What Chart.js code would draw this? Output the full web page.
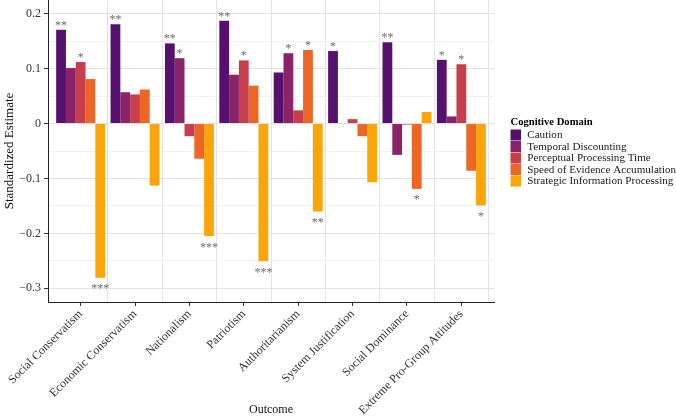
<!DOCTYPE html>
<html>
<head>
<meta charset="utf-8">
<script src="https://cdn.jsdelivr.net/npm/chart.js@4/dist/chart.umd.min.js"></script>
<style>
  body { margin: 0; background: #fff; }
  #chart { display: block; }
</style>
</head>
<body>
<canvas id="chart" width="676" height="417"></canvas>
<script>
// =============== DATA ===============
const outcomes = ['Social Conservatism', 'Economic Conservatism', 'Nationalism', 'Patriotism',
  'Authoritarianism', 'System Justification', 'Social Dominance', 'Extreme Pro-Group Attitudes'];
const domains = ['Caution', 'Temporal Discounting', 'Perceptual Processing Time',
  'Speed of Evidence Accumulation', 'Strategic Information Processing'];

const caution    = [0.171, 0.181, 0.146, 0.187, 0.093, 0.132, 0.148, 0.116];
const temporal   = [0.101, 0.057, 0.119, 0.089, 0.128, 0.001, -0.057, 0.013];
const perceptual = [0.112, 0.053, -0.023, 0.115, 0.024, 0.008, -0.002, 0.108];
const speed      = [0.081, 0.062, -0.064, 0.069, 0.134, -0.023, -0.119, -0.086];
const strategic  = [-0.281, -0.113, -0.205, -0.251, -0.160, -0.107, 0.021, -0.149];

// significance stars per bar
const sigCaution    = ['**', '**', '**', '**', '', '*', '**', '*'];
const sigTemporal   = ['', '', '*', '', '*', '', '', ''];
const sigPerceptual = ['*', '', '', '*', '', '', '', '*'];
const sigSpeed      = ['', '', '', '', '*', '', '*', ''];
const sigStrategic  = ['***', '', '***', '***', '**', '', '', '*'];

const yMajorTicks = [-0.3, -0.2, -0.1, 0, 0.1, 0.2];
const yMinorTicks = [-0.25, -0.15, -0.05, 0.05, 0.15];
// =====================================

const colors = ['#56106e', '#8b2369', '#c73e4c', '#ec6726', '#fca50a'];
const series = [caution, temporal, perceptual, speed, strategic];
const stars = [sigCaution, sigTemporal, sigPerceptual, sigSpeed, sigStrategic];
const FONT = "'Liberation Serif', 'Times New Roman', serif";

Chart.defaults.font.family = FONT;

const datasets = series.map((vals, d) => ({
  label: domains[d],
  data: vals.map((v, i) => ({ x: i + 1, y: v })),
  backgroundColor: colors[d],
  borderWidth: 0,
  categoryPercentage: 0.9,
  barPercentage: 1.0
}));

function isMajor(v) {
  return yMajorTicks.some(t => Math.abs(t - v) < 1e-9);
}

function fmtY(v) {
  if (Math.abs(v) < 1e-9) return '0';
  return (v < 0 ? '\u2212' : '') + Math.abs(v).toFixed(1);
}

// stars above / below bars
const starPlugin = {
  id: 'stars',
  afterDatasetsDraw(chart) {
    const ctx = chart.ctx;
    ctx.save();
    ctx.font = '12px ' + FONT;
    ctx.fillStyle = '#6b6b6b';
    ctx.textAlign = 'center';
    ctx.textBaseline = 'alphabetic';
    series.forEach((vals, d) => {
      const meta = chart.getDatasetMeta(d);
      meta.data.forEach((bar, i) => {
        const s = stars[d][i];
        if (!s) return;
        if (vals[i] >= 0) ctx.fillText(s, bar.x, bar.y - 1);
        else ctx.fillText(s, bar.x, bar.y + 14.5);
      });
    });
    ctx.restore();
  }
};

// ggplot-like legend on the right
const legendPlugin = {
  id: 'sideLegend',
  afterDraw(chart) {
    const ctx = chart.ctx;
    const x0 = 510.5, titleY = 122, rowY = 135, step = 11.5;
    ctx.save();
    ctx.textBaseline = 'middle';
    ctx.textAlign = 'left';
    ctx.fillStyle = '#000';
    ctx.font = 'bold 10.6px ' + FONT;
    ctx.fillText('Cognitive Domain', x0, titleY);
    ctx.font = '11.1px ' + FONT;
    chart.data.datasets.forEach((ds, d) => {
      const cy = rowY + d * step;
      ctx.fillStyle = ds.backgroundColor;
      ctx.fillRect(x0, cy - 5.5, 10.5, 11);
      ctx.fillStyle = '#1a1a1a';
      ctx.fillText(ds.label, x0 + 16.8, cy + 0.5);
    });
    ctx.restore();
  }
};

new Chart(document.getElementById('chart'), {
  type: 'bar',
  data: { datasets: datasets },
  options: {
    responsive: false,
    animation: false,
    layout: { padding: { left: 0, right: 182, top: 0, bottom: 0 } },
    plugins: {
      legend: { display: false },
      tooltip: { enabled: false }
    },
    scales: {
      x: {
        type: 'linear',
        min: 0.4,
        max: 8.6,
        offset: false,
        afterBuildTicks: s => { s.ticks = outcomes.map((_, i) => ({ value: i + 1 })); },
        afterFit: s => {
          s.height = 115;
          s.paddingLeft = 0; s.paddingRight = 0;
        },
        grid: { offset: false, drawOnChartArea: false, tickLength: 4, tickColor: '#333' },
        border: { display: true, color: '#222', width: 1 },
        ticks: {
          autoSkip: false,
          maxRotation: 45,
          minRotation: 45,
          padding: 1,
          color: '#333',
          font: { size: 12 },
          callback: v => outcomes[Math.round(v) - 1]
        },
        title: {
          display: true,
          text: 'Outcome',
          color: '#111',
          font: { size: 12 },
          padding: { top: 0, bottom: 0 }
        }
      },
      xg: {
        type: 'linear',
        position: 'bottom',
        min: 0.4,
        max: 8.6,
        offset: false,
        afterBuildTicks: s => { s.ticks = outcomes.map((_, i) => ({ value: i + 1.5 })); },
        afterFit: s => {
          s.height = 0;
          s.paddingLeft = 0; s.paddingRight = 0;
        },
        grid: { offset: false, drawTicks: false, color: '#e3e3e3', lineWidth: 1 },
        border: { display: false },
        ticks: { display: false }
      },
      y: {
        type: 'linear',
        min: -0.325,
        max: 0.225,
        afterBuildTicks: s => {
          s.ticks = yMajorTicks.concat(yMinorTicks).sort((a, b) => a - b).map(v => ({ value: v }));
        },
        afterFit: s => {
          s.width = 48;
          s.paddingTop = 0; s.paddingBottom = 0;
        },
        grid: {
          color: c => isMajor(c.tick.value) ? '#e3e3e3' : '#f1f1f1',
          tickColor: c => isMajor(c.tick.value) ? '#333' : 'rgba(0,0,0,0)',
          tickLength: 4,
          lineWidth: 1
        },
        border: { display: true, color: '#222', width: 1 },
        ticks: {
          color: '#333',
          padding: 3,
          font: { size: 12 },
          callback: v => isMajor(v) ? fmtY(v) : ''
        },
        title: {
          display: true,
          text: 'Standardized Estimate',
          color: '#111',
          font: { size: 13 },
          padding: { top: 2, bottom: 0 }
        }
      }
    }
  },
  plugins: [starPlugin, legendPlugin]
});
</script>
</body>
</html>
